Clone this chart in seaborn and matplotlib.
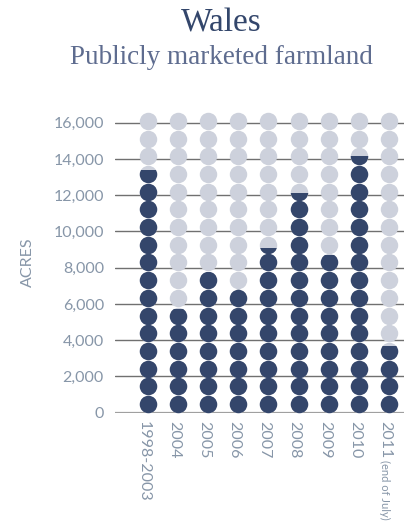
import matplotlib
matplotlib.use("Agg")
import matplotlib.pyplot as plt
import matplotlib.transforms as mtransforms
from matplotlib.patches import Rectangle
import numpy as np
import pandas as pd
import seaborn as sns

# ---- data ----
categories = ["1998-2003", "2004", "2005", "2006", "2007", "2008", "2009", "2010", "2011"]
acres = [13400, 5700, 7750, 6800, 9100, 12100, 8700, 14150, 3700]
y_ticks = [0, 2000, 4000, 6000, 8000, 10000, 12000, 14000, 16000]
title = "Wales"
subtitle = "Publicly marketed farmland"
ylabel = "ACRES"
note_2011 = "(end of July)"

# ---- style ----
DARK = "#34466b"
LIGHT = "#cdd1dc"
TXT = "#8796a8"

sns.set_style("white")
plt.rcParams["font.family"] = ["Lato", "DejaVu Sans"]

W, H = 404, 531
fig = plt.figure(figsize=(W / 100, H / 100), dpi=100)
ax = fig.add_axes([115 / W, 0.2228, 1 - 115 / W, 0.5803])

# dot grid layout (17 dots per column)
n_dots = 17
dot_levels = np.linspace(480, 16100, n_dots)
dot_size = 158

grid = pd.DataFrame([(i, lv) for i in range(len(categories)) for lv in dot_levels],
                    columns=["col", "level"])

# gridlines
for t in y_ticks[1:]:
    ax.axhline(t, color="#707070", lw=1.0, zorder=1)
ax.axhline(0, color="#a0a0a0", lw=1.6, zorder=1)

# light background dots
sns.scatterplot(data=grid, x="col", y="level", s=dot_size, color=LIGHT,
                linewidth=0, ax=ax, zorder=2, legend=False)
ax.collections[-1].set_clip_on(False)

# dark filled dots, clipped to each column's value
for i, v in enumerate(acres):
    sub = grid[grid["col"] == i]
    sns.scatterplot(data=sub, x="col", y="level", s=dot_size, color=DARK,
                    linewidth=0, ax=ax, zorder=3, legend=False)
    coll = ax.collections[-1]
    clip = Rectangle((i - 0.5, -1000), 1.0, v + 1000, transform=ax.transData)
    coll.set_clip_path(clip)

ax.set_xlim(-1.096, 8.5)
ax.set_ylim(0, 17000)

for s in ax.spines.values():
    s.set_visible(False)

ax.set_yticks(y_ticks)
ax.set_yticklabels([f"{t:,}" for t in y_ticks])
ax.set_xticks(range(len(categories)))
ax.set_xticklabels(categories, rotation=270, ha="center", va="top")
ax.tick_params(axis="y", length=0, pad=8, labelsize=11.5, labelcolor=TXT)
ax.tick_params(axis="x", length=0, pad=6, labelsize=11.5, labelcolor=TXT)
shift = mtransforms.ScaledTranslation(-4 / 100, 0, fig.dpi_scale_trans)
for lab in ax.get_xticklabels():
    lab.set_transform(lab.get_transform() + shift)

ax.set_xlabel("")
ax.set_ylabel(ylabel, color=TXT, fontsize=11.5)
ax.yaxis.set_label_coords(-0.277, 0.489)

# note under 2011
blend = mtransforms.blended_transform_factory(ax.transData, ax.transAxes)
ax.text(8, -0.153, note_2011, transform=blend + shift, rotation=270,
        ha="center", va="top", fontsize=8, color=TXT)

fig.text(221 / W, 1 - 23 / H, title, ha="center", va="center",
         family=["Liberation Serif"], fontsize=24, color="#33466b")
fig.text(221 / W, 1 - 58 / H, subtitle, ha="center", va="center",
         family=["Liberation Serif"], fontsize=19.5, color="#5e6c8f")

fig.savefig("out.png", dpi=100)
